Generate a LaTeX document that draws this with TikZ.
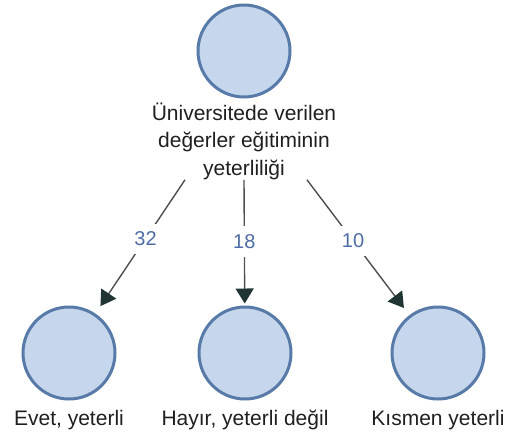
\documentclass[tikz,border=0pt]{standalone}
\usepackage{fontspec}
\setmainfont{Liberation Sans}
\usetikzlibrary{positioning, arrows.meta}
\definecolor{ballFill}{RGB}{198,214,236}
\definecolor{ballEdge}{RGB}{88,122,168}
\definecolor{edgeGray}{RGB}{78,78,78}
\definecolor{tipDark}{RGB}{32,52,52}
\definecolor{countBlue}{RGB}{78,108,165}
\tikzset{
  ball/.style={circle, draw=ballEdge, fill=ballFill, line width=3pt,
    minimum size=92pt, inner sep=0},
  caption/.style={inner sep=0, text=black!88,
    font=\fontsize{21}{27.5}\selectfont},
  leafText/.style={caption, text height=16pt, text depth=5pt},
  link/.style={draw=edgeGray, line width=1.4pt,
    -{Triangle[length=15pt,width=18pt,color=tipDark]}},
  count/.style={fill=white, inner sep=8pt, text=countBlue,
    font=\fontsize{20}{24}\selectfont}
}
\begin{document}
\begin{tikzpicture}[x=1pt, y=-1pt, node distance=8.5pt]
  \useasboundingbox (0,0) rectangle (508,432);
  % root and its caption
  \node[ball] (root) at (244,51) {};
  \node[caption, align=center, below=4pt of root] (rootText)
    {Üniversitede verilen\\değerler eğitiminin\\yeterliliği};
  % answers
  \node[ball] (evet) at (69,353) {};
  \node[ball] (hayir) at (245,353) {};
  \node[ball] (kismen) at (438,353) {};
  \node[leafText, below=of evet] (evetText) {Evet, yeterli};
  \node[leafText, below=of hayir] (hayirText) {Hayır, yeterli değil};
  \node[leafText, below=of kismen] (kismenText) {Kısmen yeterli};

  % counts on the arrows
  \draw[link, shorten >=9pt] ([xshift=-59pt]rootText.south) -- node[count, pos=0.44] {32} (evet);
  \draw[link, shorten >=2pt] (rootText.south) -- node[count, pos=0.49] {18} (hayir);
  \draw[link, shorten >=9pt] ([xshift=63pt]rootText.south) -- node[count, pos=0.45] {10} (kismen);
\end{tikzpicture}
\end{document}
